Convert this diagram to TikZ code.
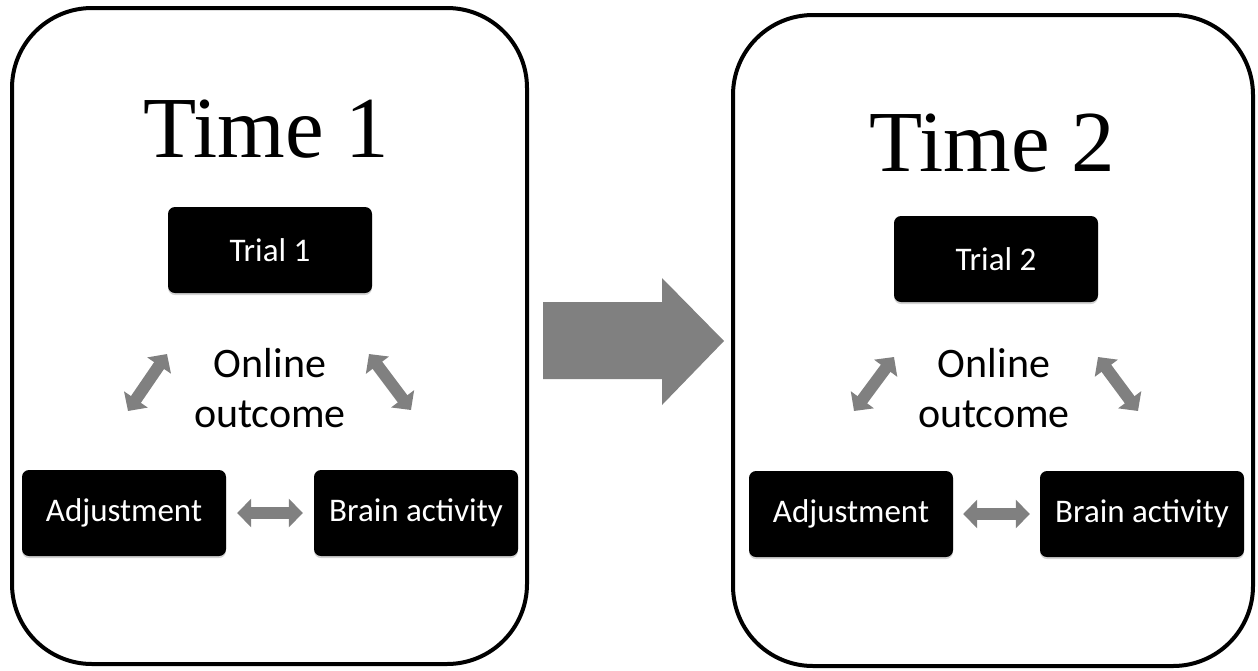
\documentclass[tikz,border=0pt]{standalone}
\usepackage{fontspec}
\setmainfont{Liberation Serif}
\newfontfamily\labelfont{Carlito}
\usetikzlibrary{arrows.meta,shadows}
\definecolor{arrowgray}{RGB}{128,128,128}

\begin{document}
\begin{tikzpicture}[x=1pt,y=-1pt,
  frame/.style={draw=black,line width=4pt,rounded corners=80pt},
  title/.style={anchor=base,inner sep=0pt,font=\fontsize{87}{90}\selectfont},
  blackbox/.style={fill=black,rounded corners=7pt,minimum width=204pt,
    minimum height=86pt,inner sep=0pt,text=white,
    font=\labelfont\fontsize{33}{36}\selectfont,
    drop shadow={shadow xshift=0pt,shadow yshift=-2pt,opacity=0.35}},
  outcometext/.style={anchor=base,inner sep=0pt,
    font=\labelfont\fontsize{42}{48}\selectfont},
  biarrow/.style={draw=arrowgray,line width=12pt,
    {Triangle[length=14pt,width=28pt]}-{Triangle[length=14pt,width=28pt]}}]

\useasboundingbox (0,0) rectangle (1258,670);

% the two time frames
\draw[frame] (12,8) rectangle (527,664);
\draw[frame] (733,15) rectangle (1253,666);

% big arrow from Time 1 to Time 2
\fill[arrowgray] (543,302) -- (662,302) -- (662,278) -- (724,341)
  -- (662,405) -- (662,379) -- (543,379) -- cycle;

% ---- Time 1 ----
\node[title] (title1) at (266,157) {Time 1};
\node[blackbox] (trial1) at (270,250) {Trial 1};
\node[blackbox] (adj1) at (124,513) {Adjustment};
\node[blackbox] (brain1) at (416,513) {Brain activity};
\node[outcometext] (online1) at (270,377) {Online};
\node[outcometext] (outcome1) at (270,427) {outcome};

\coordinate (l1a) at (128,411);
\coordinate (l1b) at (167,354);
\coordinate (r1a) at (369,354);
\coordinate (r1b) at (411,410);
\draw[biarrow] (l1a) -- (l1b);
\draw[biarrow] (r1a) -- (r1b);
\draw[biarrow] ([xshift=11pt]adj1.east) -- ([xshift=-11pt]brain1.west);

% ---- Time 2 ----
\node[title] (title2) at (992,171) {Time 2};
\node[blackbox] (trial2) at (996,259) {Trial 2};
\node[blackbox] (adj2) at (851,514) {Adjustment};
\node[blackbox] (brain2) at (1142,514) {Brain activity};
\node[outcometext] (online2) at (994,377) {Online};
\node[outcometext] (outcome2) at (994,427) {outcome};

\coordinate (l2a) at (854,411);
\coordinate (l2b) at (894,357);
\coordinate (r2a) at (1098,357);
\coordinate (r2b) at (1138,411);
\draw[biarrow] (l2a) -- (l2b);
\draw[biarrow] (r2a) -- (r2b);
\draw[biarrow] ([xshift=10pt]adj2.east) -- ([xshift=-10pt]brain2.west);

\end{tikzpicture}
\end{document}
